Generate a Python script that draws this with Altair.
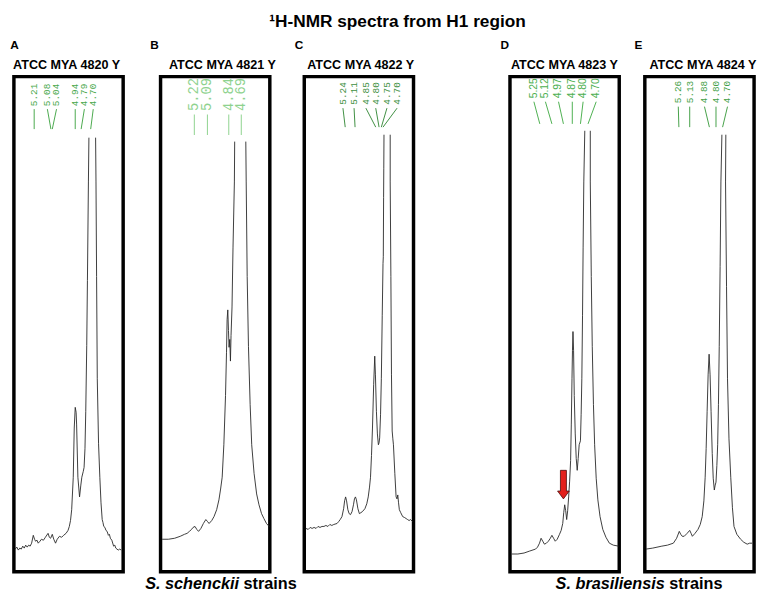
import altair as alt
import pandas as pd

# ---------------------------------------------------------------- texts
TITLE = "¹H-NMR spectra from H1 region"
PANEL_LETTERS = ["A", "B", "C", "D", "E"]
STRAIN_NAMES = ["ATCC MYA 4820 Y", "ATCC MYA 4821 Y", "ATCC MYA 4822 Y",
                "ATCC MYA 4823 Y", "ATCC MYA 4824 Y"]
SPECIES = ["S. schenckii", "S. brasiliensis"]
SPECIES_SUFFIX = "strains"

# ---------------------------------------------------------------- traces
# (trace position, intensity a.u.); each spectrum is
# split into the rising branch and the falling branch of the off-scale peak
A_RISE = [(1.3, 23), (3, 25), (4.5, 22), (6, 24), (7.5, 23), (9, 26), (10.5, 24), (12, 27),
          (13.5, 25), (15, 27), (16.5, 26), (18, 29), (19.7, 37), (21, 33), (22, 31), (23.5, 32),
          (24.7, 29), (26.5, 31), (28, 33), (30, 32), (32, 35), (34.7, 39), (36, 35), (37.3, 34),
          (39, 38), (40.5, 33), (42.3, 29), (44, 33), (46.3, 36), (48.5, 35), (50.5, 37), (53, 39),
          (55, 42), (56.3, 46), (57.5, 52), (58.7, 63), (60.3, 96), (61.3, 146), (62.3, 167),
          (63.2, 162), (63.7, 150), (65, 96), (66.7, 76), (68, 88), (69, 96), (70.5, 102),
          (71.3, 106), (72.2, 125), (73, 163), (74, 230), (74.7, 296), (75.7, 396), (76.2, 441)]
A_FALL = [(83, 441), (83.4, 396), (84, 300), (84.7, 196), (86, 130), (87.3, 96), (88.5, 70),
          (89.7, 53), (90.5, 50), (91.3, 46), (92.5, 45), (93.5, 42), (94.7, 41), (96, 37),
          (97, 38), (98, 34), (99.5, 32), (101.3, 26), (102.5, 27), (103.5, 24), (104.7, 23),
          (106, 22), (107.5, 23), (109, 22)]

B_RISE = [(1.6, 33), (8, 33), (14.3, 34), (20, 36), (24.3, 38), (27, 39), (29.3, 41), (31.5, 43),
          (33, 45), (35, 46), (36.8, 43), (38.6, 41), (41, 44), (43.5, 49), (46, 53), (47.7, 51),
          (49.3, 49), (52, 52), (54.3, 56), (57, 63), (59.3, 73), (61, 84), (62.6, 96), (64.3, 129),
          (66, 179), (67, 223), (67.6, 256), (68.3, 266), (69, 245), (69.6, 228), (70.3, 236),
          (71, 214), (71.6, 240), (72.6, 269), (73.6, 329), (75, 396), (75.3, 437)]
B_FALL = [(86.6, 437), (87, 396), (88, 300), (89.3, 229), (91, 170), (92.6, 129), (95, 100),
          (97.6, 79), (100, 68), (102.6, 59), (105, 54), (107.6, 49), (110.3, 46)]

C_RISE = [(1.6, 44), (4, 43), (6, 45), (8, 44), (10, 45), (12, 44), (14, 46), (16, 45), (18, 46),
          (20, 46), (22, 47), (24, 46), (26, 48), (28, 47), (30, 48), (33.3, 49), (35, 51),
          (36.5, 53), (38.3, 56), (40, 64), (41, 72), (42, 76), (43, 72), (44.3, 63), (45.6, 59),
          (47, 58), (48.5, 61), (50, 68), (51, 74), (52, 76), (53, 73), (54.5, 64), (56, 59),
          (57.5, 60), (59, 61), (61.6, 64), (63.5, 69), (65, 76), (66.3, 86), (67.3, 96),
          (68.3, 118), (69.3, 146), (70.5, 190), (71.6, 219), (72.3, 200), (73.3, 163),
          (74.3, 140), (75.3, 129), (76, 131), (76.6, 136), (77.5, 160), (78.3, 196), (79.2, 260),
          (80, 313), (80.3, 320), (80.6, 380), (80.8, 410), (81, 444)]
C_FALL = [(87.3, 444), (87.3, 396), (88, 300), (88.6, 200), (89.3, 143), (90, 135), (90.6, 129),
          (92, 100), (93.3, 76), (94.2, 74), (95, 78), (95.8, 70), (96.6, 63), (98, 60), (100, 56),
          (102, 55), (103.5, 54), (105, 53), (106.5, 52), (108, 53), (110, 51)]

D_RISE = [(1.6, 18), (8, 18), (14.3, 19), (20, 21), (26, 23), (28, 25), (30, 29), (31.6, 34),
          (33.3, 31), (35, 28), (37, 29), (39, 31), (41, 34), (42.6, 37), (44.3, 34), (46, 31),
          (48, 33), (50.3, 38), (52, 42), (53.6, 49), (54.6, 60), (55.6, 68), (56.6, 62),
          (57.6, 53), (58.6, 62), (59.6, 76), (60.6, 92), (61.6, 113), (62.3, 150), (63, 196),
          (63.5, 225), (64, 244), (64.6, 225), (65.3, 179), (66.3, 140), (67.3, 115), (68.3, 103),
          (69.3, 115), (70.3, 129), (71.6, 133), (72.3, 160), (73, 196), (73.7, 260), (74.3, 329),
          (75, 396), (76, 448)]
D_FALL = [(81.6, 448), (81.6, 396), (82.6, 300), (83.6, 229), (84.8, 170), (86, 129), (87.6, 95),
          (89.3, 73), (91.5, 56), (94.3, 43), (97.5, 35), (101, 29), (105, 27), (110.3, 26)]

E_RISE = [(1.3, 23), (8, 24), (17.3, 26), (23, 27), (29, 29), (32.3, 34), (35, 41), (36.5, 38),
          (38, 36), (40, 36), (43, 39), (45.6, 42), (47, 39), (48.3, 36), (51, 39), (54, 43),
          (56.3, 48), (58.3, 56), (60, 72), (61.3, 96), (62.3, 125), (63.3, 163), (64.3, 200),
          (65.3, 221), (66.3, 200), (67.3, 163), (68.5, 120), (69.5, 95), (70.6, 83), (71.5, 88),
          (72.3, 91), (73.2, 108), (74, 129), (74.8, 170), (75.6, 229), (76.5, 310), (77.3, 396),
          (78.3, 444)]
E_FALL = [(82.3, 444), (82, 396), (83, 290), (84, 196), (85.5, 135), (87.3, 96), (89, 65),
          (90.6, 46), (93.5, 38), (97.3, 33), (100.5, 30), (104, 28), (106.5, 29), (109, 29)]

# ---------------------------------------------------------------- peak labels
A_SHIFTS = ["5.21", "5.08", "5.04", "4.94", "4.79", "4.70"]
A_LABEL_POS = [20.6, 34, 43.3, 62.3, 71.6, 80.6]
A_PEAK_POS = [20.6, 37.6, 39, 62.3, 68.3, 78]

B_SHIFTS = ["5.22", "5.09", "4.84", "4.69"]
B_LABEL_POS = [34.3, 47.6, 69.3, 82]
B_PEAK_POS = [34.3, 47.6, 69.3, 82]

C_SHIFTS = ["5.24", "5.11", "4.85", "4.80", "4.75", "4.70"]
C_LABEL_POS = [39.3, 50.6, 62.6, 72.6, 84, 94.3]
C_PEAK_POS = [41.6, 51.6, 72.6, 76, 78.3, 80]

D_SHIFTS = ["5.25", "5.12", "4.97", "4.87", "4.80", "4.70"]
D_LABEL_POS = [24.3, 36, 49.3, 63.3, 74.3, 87.6]
D_PEAK_POS = [30.3, 42.6, 54.3, 63.3, 71.6, 79.3]

E_SHIFTS = ["5.26", "5.13", "4.88", "4.80", "4.70"]
E_LABEL_POS = [34, 45.6, 60.6, 72.3, 84]
E_PEAK_POS = [34.6, 45.6, 65.6, 72.3, 79]

# marked peak (red arrow) in panel D
D_ARROW = {"pos": [54.3], "intensity": [88.5]}

# ---------------------------------------------------------------- layout / style
W, H = 111, 503
GAPS = [38, 35, 98, 26]
FONT = "Liberation Sans"
MONO = "Liberation Mono"

X_SCALE = alt.Scale(domain=[0, W], nice=False, zero=False)
Y_SCALE = alt.Scale(domain=[0, H], nice=False, zero=False)

LABEL_STYLE = [
    dict(font=MONO, size=9.5, color="#49a84c", t_bot=30, c_top=33, c_bot=53.3, hx=53.5, lx=-3.7),
    dict(font=MONO, size=14, color="#8ed28e", t_bot=35, c_top=38.5, c_bot=59.3, hx=62.8, lx=-10.5),
    dict(font=MONO, size=9.5, color="#3e8f41", t_bot=28.5, c_top=32, c_bot=51.3, hx=57.3, lx=-9.7),
    dict(font=FONT, size=10.5, color="#4caf50", t_bot=22, c_top=25.5, c_bot=48, hx=55.3, lx=-9.7),
    dict(font=MONO, size=9.5, color="#44a047", t_bot=27, c_top=30.5, c_bot=51.3, hx=59, lx=-10.5),
]

ARROW_PATH = "M -0.21 -1 L 0.21 -1 L 0.21 0.45 L 0.41 0.45 L 0 1 L -0.41 0.45 L -0.21 0.45 Z"


def trace_frame(rise, fall):
    rows = []
    for seg, pts in (("rise", rise), ("fall", fall)):
        for k, (x, y) in enumerate(pts):
            rows.append({"pos": x, "intensity": y, "seg": seg, "k": k})
    return pd.DataFrame(rows)


def text_layer(txt, x, y, size, align="center", weight="bold", style="normal", color="black"):
    return alt.Chart(pd.DataFrame({"t": [txt]})).mark_text(
        align=align, baseline="middle", font=FONT, fontSize=size,
        fontWeight=weight, fontStyle=style, color=color
    ).encode(text="t:N", x=alt.value(x), y=alt.value(y))


def panel(i, rise, fall, shifts, label_pos, peak_pos, extra=()):
    st = LABEL_STYLE[i]
    tr = trace_frame(rise, fall)
    line = alt.Chart(tr).mark_line(color="#262626", strokeWidth=0.9).encode(
        x=alt.X("pos:Q", scale=X_SCALE, axis=None),
        y=alt.Y("intensity:Q", scale=Y_SCALE, axis=None),
        detail="seg:N",
        order="k:Q",
    )
    lab = pd.DataFrame({"shift": shifts, "lx": label_pos, "px": peak_pos})
    connectors = alt.Chart(lab).mark_rule(color=st["color"], strokeWidth=1).encode(
        x=alt.X("lx:Q", scale=X_SCALE, axis=None),
        x2="px:Q",
        y=alt.value(st["c_top"]),
        y2=alt.value(st["c_bot"]),
    )
    labels = alt.Chart(lab).mark_text(
        angle=270, align="left", baseline="middle",
        font=st["font"], fontSize=st["size"], color=st["color"]
    ).encode(
        x=alt.X("lx:Q", scale=X_SCALE, axis=None),
        y=alt.value(st["t_bot"]),
        text="shift:N",
    )
    header = text_layer(STRAIN_NAMES[i], st["hx"], -12.2, 12.8)
    letter = text_layer(PANEL_LETTERS[i], st["lx"], -32.2, 12, align="left")
    return alt.layer(line, connectors, labels, header, letter, *extra).properties(width=W, height=H)


def spacer(w):
    return alt.Chart(pd.DataFrame({"v": [0]})).mark_text(text="").encode(
        x=alt.value(0), y=alt.value(0)
    ).properties(width=w, height=H, view=alt.ViewBackground(stroke="transparent", strokeWidth=0))


title_layer = text_layer(TITLE, 94.8, -55, 17.5)

b_extra = (
    text_layer(SPECIES[0], 79.7, 516, 16.5, align="right", style="italic"),
    text_layer(SPECIES_SUFFIX, 84.3, 516, 16.5, align="left"),
)

arrow = alt.Chart(pd.DataFrame(D_ARROW)).mark_point(
    shape=ARROW_PATH, size=841, filled=True, fill="#e3211c", stroke="#4a0d0b",
    strokeWidth=0.8, opacity=1
).encode(
    x=alt.X("pos:Q", scale=X_SCALE, axis=None),
    y=alt.Y("intensity:Q", scale=Y_SCALE, axis=None),
)
d_extra = (
    arrow,
    text_layer(SPECIES[1], 157.3, 516, 16.5, align="right", style="italic"),
    text_layer(SPECIES_SUFFIX, 161.9, 516, 16.5, align="left"),
)

pA = panel(0, A_RISE, A_FALL, A_SHIFTS, A_LABEL_POS, A_PEAK_POS)
pB = panel(1, B_RISE, B_FALL, B_SHIFTS, B_LABEL_POS, B_PEAK_POS, b_extra)
pC = panel(2, C_RISE, C_FALL, C_SHIFTS, C_LABEL_POS, C_PEAK_POS, (title_layer,))
pD = panel(3, D_RISE, D_FALL, D_SHIFTS, D_LABEL_POS, D_PEAK_POS, d_extra)
pE = panel(4, E_RISE, E_FALL, E_SHIFTS, E_LABEL_POS, E_PEAK_POS)

chart = alt.hconcat(
    pA, spacer(GAPS[0]), pB, spacer(GAPS[1]), pC, spacer(GAPS[2]), pD, spacer(GAPS[3]), pE,
    spacing=0, bounds="flush"
).properties(
    padding={"top": -1, "left": 0, "right": 0, "bottom": 0}, background="white"
).configure_view(
    stroke="black", strokeWidth=3.5
)

chart.save("out.html", embed_options={"renderer": "svg", "actions": False})
